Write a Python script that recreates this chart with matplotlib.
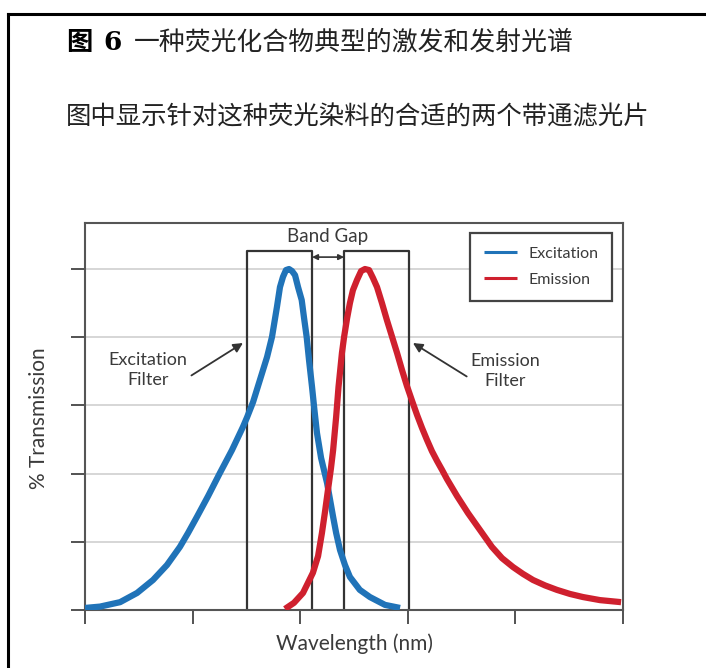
import matplotlib.pyplot as plt
import numpy as np

# spectra (wavelength in nm, % transmission)
exc_wl = [400.0, 407.0, 416.3, 424.2, 431.6, 438.1, 444.1, 447.9, 452.0, 457.2,
          462.7, 468.3, 473.4, 475.3, 478.1, 484.6, 486.9, 489.2, 490.6, 492.0,
          493.4, 494.8, 496.2, 497.6, 499.0, 500.7, 501.8, 503.0, 504.1, 505.5,
          506.6, 507.8, 509.7, 512.5, 515.3, 516.7, 518.5, 520.8, 523.1, 527.7,
          532.4, 539.4, 546.4]
exc_tr = [0.6, 1.0, 2.3, 5.0, 8.8, 13.2, 18.5, 22.6, 27.3, 33.4,
          40.2, 46.9, 53.7, 56.5, 61.0, 74.2, 80.1, 88.9, 94.7, 97.7,
          99.7, 100.0, 99.4, 98.2, 94.7, 90.9, 85.6, 80.1, 73.3, 65.4,
          58.7, 51.9, 44.6, 37.2, 27.3, 22.6, 17.6, 13.2, 9.7, 5.9,
          3.8, 1.5, 0.6]

em_wl = [492.9, 497.1, 501.3, 505.9, 508.3, 510.1, 511.5, 512.9, 514.3, 515.3,
         516.7, 517.8, 519.4, 520.4, 521.8, 523.1, 524.5, 526.4, 528.3, 530.1,
         532.0, 533.8, 535.7, 538.0, 540.3, 542.7, 545.0, 547.3, 549.6, 552.0,
         554.3, 556.6, 558.9, 561.2, 563.6, 565.9, 568.2, 572.9, 578.0, 583.5,
         589.1, 593.8, 598.9, 603.5, 608.2, 613.8, 619.3, 625.4, 631.4, 639.3,
         649.1]
em_tr = [0.3, 2.1, 5.0, 10.9, 15.8, 22.6, 28.7, 35.2, 41.6, 46.9,
         56.6, 65.4, 75.4, 80.1, 85.6, 90.0, 93.8, 96.8, 99.4, 100.0,
         99.7, 97.4, 94.7, 90.0, 85.0, 80.1, 75.4, 70.4, 65.7, 61.3,
         57.2, 53.4, 49.9, 46.6, 43.7, 41.1, 38.4, 33.4, 28.4, 23.5,
         18.5, 15.2, 12.6, 10.6, 8.8, 7.2, 5.9, 4.7, 3.8, 2.9,
         2.3]

# band-pass filters (nm) and their height
exc_filter = (475.3, 505.5)
em_filter = (520.4, 550.6)
filter_top = 105.3

xticks = [400, 450, 500, 550, 600, 650]
yticks = [0, 20, 40, 60, 80, 100]

plt.rcParams['font.family'] = ['Lato', 'DejaVu Sans']
txt = '#3a3a3a'

fig = plt.figure(figsize=(7.06, 6.68), dpi=100)
ax = fig.add_axes([85 / 706, 58 / 668, 538 / 706, 387 / 668])

ax.set_xlim(400, 650)
ax.set_ylim(0, 113.5)
ax.set_xticks(xticks)
ax.set_yticks(yticks)
ax.set_xticklabels([])
ax.set_yticklabels([])
ax.tick_params(direction='out', length=10, width=1.3, color='#444444')
ax.grid(axis='y', color='#cfcfcf', linewidth=1.2)
ax.set_axisbelow(True)
for s in ax.spines.values():
    s.set_color('#555555')
    s.set_linewidth(1.5)

# filter boxes
for lo, hi in (exc_filter, em_filter):
    ax.plot([lo, lo, hi, hi], [0, filter_top, filter_top, 0], color='#333333', lw=1.6, zorder=2)

ax.plot(exc_wl, exc_tr, color='#2073b8', lw=4.5, solid_capstyle='butt',
        solid_joinstyle='round', label='Excitation', zorder=3)
ax.plot(em_wl, em_tr, color='#cf202e', lw=4.5, solid_capstyle='butt',
        solid_joinstyle='round', label='Emission', zorder=3)

# band gap
ax.annotate('', xy=(exc_filter[1], 103.5), xytext=(em_filter[0], 103.5),
            arrowprops=dict(arrowstyle='<|-|>', color='#333333', lw=1.2, mutation_scale=8,
                            shrinkA=0, shrinkB=0))
ax.text(512.5, 109.4, 'Band Gap', ha='center', va='center', fontsize=13.5, color=txt)

ax.annotate('Excitation\nFilter', xy=(473.4, 78.3), xytext=(429.3, 70.4),
            ha='center', va='center', fontsize=13, color=txt, linespacing=1.35,
            arrowprops=dict(arrowstyle='-|>', color='#333333', lw=1.3, mutation_scale=14,
                            shrinkA=0, shrinkB=0, relpos=(1.05, 0.35)))
ax.annotate('Emission\nFilter', xy=(552.4, 78.3), xytext=(595.2, 70.1),
            ha='center', va='center', fontsize=13, color=txt, linespacing=1.35,
            arrowprops=dict(arrowstyle='-|>', color='#333333', lw=1.3, mutation_scale=14,
                            shrinkA=0, shrinkB=0, relpos=(-0.05, 0.35)))

leg = ax.legend(loc='upper right', bbox_to_anchor=(0.9796, 0.974), borderaxespad=0,
                fontsize=11.5, handlelength=2.1, handletextpad=0.7, borderpad=0.85,
                labelspacing=0.75, fancybox=False, framealpha=1)
leg.get_frame().set_edgecolor('#444444')
leg.get_frame().set_linewidth(1.6)
for line in leg.get_lines():
    line.set_linewidth(2.2)
for t in leg.get_texts():
    t.set_color(txt)

ax.set_xlabel('Wavelength (nm)', fontsize=15, color=txt)
ax.set_ylabel('% Transmission', fontsize=15, color=txt)
ax.xaxis.set_label_coords(0.5, -0.06)
ax.yaxis.set_label_coords(-0.066, 0.496)

# caption above the chart
cjk = ['Noto Sans CJK SC', 'DejaVu Sans']
fig.text(66 / 706, 1 - 42 / 668, '图', fontsize=19, fontweight='bold', family=cjk, va='center')
fig.text(103 / 706, 1 - 42 / 668, '6', fontsize=19, fontweight='bold', family=['DejaVu Serif'], va='center')
fig.text(134 / 706, 1 - 42 / 668, '一种荧光化合物典型的激发和发射光谱', fontsize=18.6,
         family=cjk, va='center', color='#222222')
fig.text(66 / 706, 1 - 117 / 668, '图中显示针对这种荧光染料的合适的两个带通滤光片', fontsize=18.3,
         family=cjk, va='center', color='#222222')

# frame lines at top and left
fig.add_artist(plt.Line2D([8 / 706, 1], [1 - 14 / 668, 1 - 14 / 668], color='black', lw=2.2))
fig.add_artist(plt.Line2D([8 / 706, 8 / 706], [0, 1 - 14 / 668], color='black', lw=2.2))

fig.savefig('out.png', dpi=100)
